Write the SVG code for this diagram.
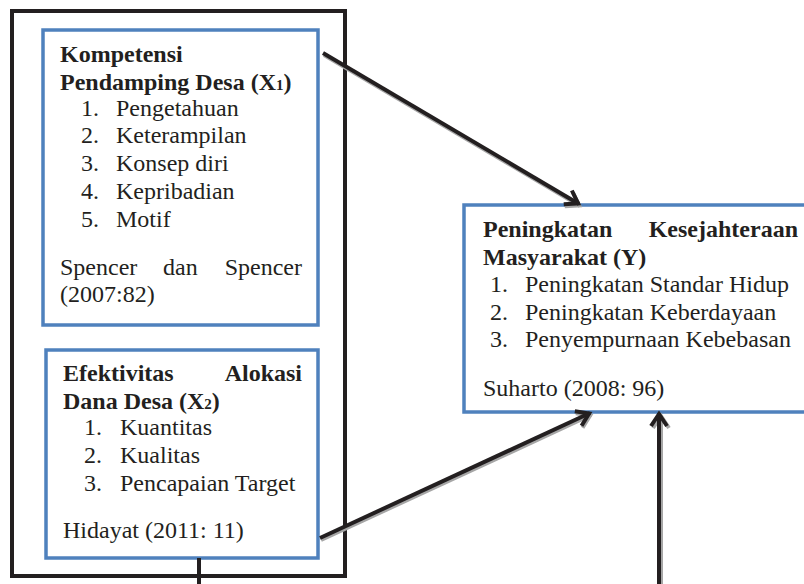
<svg xmlns="http://www.w3.org/2000/svg" width="804" height="584" viewBox="0 0 804 584">
<style>
.t{font-family:"Liberation Serif","Times New Roman",serif;font-size:24px;fill:#231F20}
.b{font-weight:bold}
.sub{font-size:15px}
.box{fill:#fff;stroke:#4F81BD;stroke-width:3.5}
.outer{fill:none;stroke:#231F20;stroke-width:4}
.ln{stroke:#231F20;stroke-width:4;fill:none}
.sh{stroke:#A6A6A6;stroke-width:4;fill:none}
</style>
<defs>
<marker id="ah" markerUnits="userSpaceOnUse" markerWidth="24" markerHeight="24" viewBox="-18 -12 24 24" refX="0" refY="0" orient="auto">
<path d="M-13,-8 L-1,0 L-13,8" fill="none" stroke="#231F20" stroke-width="4"/>
</marker>
<marker id="ahs" markerUnits="userSpaceOnUse" markerWidth="24" markerHeight="24" viewBox="-18 -12 24 24" refX="0" refY="0" orient="auto">
<path d="M-13,-8 L-1,0 L-13,8" fill="none" stroke="#A6A6A6" stroke-width="4"/>
</marker>
</defs>
<rect width="804" height="584" fill="#fff"/>
<g id="outer-frame">
<rect class="outer" x="12" y="11" width="333" height="565"/>
</g>
<g id="node-x1">
<rect class="box" x="43" y="30" width="275" height="295"/>
<text class="t b" x="60" y="62">Kompetensi</text>
<text class="t b" x="60" y="90">Pendamping Desa (X<tspan class="sub">1</tspan>)</text>
<text class="t" x="81" y="116">1.</text><text class="t" x="116" y="116">Pengetahuan</text>
<text class="t" x="81" y="143">2.</text><text class="t" x="116" y="143">Keterampilan</text>
<text class="t" x="81" y="171">3.</text><text class="t" x="116" y="171">Konsep diri</text>
<text class="t" x="81" y="199">4.</text><text class="t" x="116" y="199">Kepribadian</text>
<text class="t" x="81" y="227">5.</text><text class="t" x="116" y="227">Motif</text>
<text class="t" x="60" y="275">Spencer</text><text class="t" x="163" y="275">dan</text><text class="t" x="302" y="275" text-anchor="end">Spencer</text>
<text class="t" x="60" y="302">(2007:82)</text>
</g>
<g id="node-x2">
<rect class="box" x="46" y="350" width="272" height="208"/>
<text class="t b" x="63" y="381">Efektivitas</text><text class="t b" x="302" y="381" text-anchor="end">Alokasi</text>
<text class="t b" x="63" y="409">Dana Desa (X<tspan class="sub">2</tspan>)</text>
<text class="t" x="84" y="435">1.</text><text class="t" x="120" y="435">Kuantitas</text>
<text class="t" x="84" y="463">2.</text><text class="t" x="120" y="463">Kualitas</text>
<text class="t" x="84" y="491">3.</text><text class="t" x="120" y="491">Pencapaian Target</text>
<text class="t" x="63" y="538">Hidayat (2011: 11)</text>
</g>
<g id="node-y">
<rect class="box" x="464" y="205" width="350" height="207"/>
<text class="t b" x="483" y="237">Peningkatan</text><text class="t b" x="798" y="237" text-anchor="end">Kesejahteraan</text>
<text class="t b" x="483" y="265">Masyarakat (Y)</text>
<text class="t" x="490" y="292">1.</text><text class="t" x="525" y="292">Peningkatan Standar Hidup</text>
<text class="t" x="490" y="320">2.</text><text class="t" x="525" y="320">Peningkatan Keberdayaan</text>
<text class="t" x="490" y="347">3.</text><text class="t" x="525" y="347">Penyempurnaan Kebebasan</text>
<text class="t" x="483" y="396">Suharto (2008: 96)</text>
</g>
<g id="connectors">
<line class="sh" x1="324" y1="55" x2="580" y2="206" marker-end="url(#ahs)"/>
<line class="sh" x1="321" y1="540" x2="591" y2="415" marker-end="url(#ahs)"/>
<line class="sh" x1="661" y1="584" x2="661" y2="415" marker-end="url(#ahs)"/>
<line class="ln" x1="323" y1="53" x2="579" y2="204" marker-end="url(#ah)"/>
<line class="ln" x1="320" y1="538" x2="590" y2="413" marker-end="url(#ah)"/>
<line class="ln" x1="659" y1="584" x2="659" y2="413" marker-end="url(#ah)"/>
<line class="ln" x1="199" y1="558" x2="199" y2="584"/>
</g>
</svg>
